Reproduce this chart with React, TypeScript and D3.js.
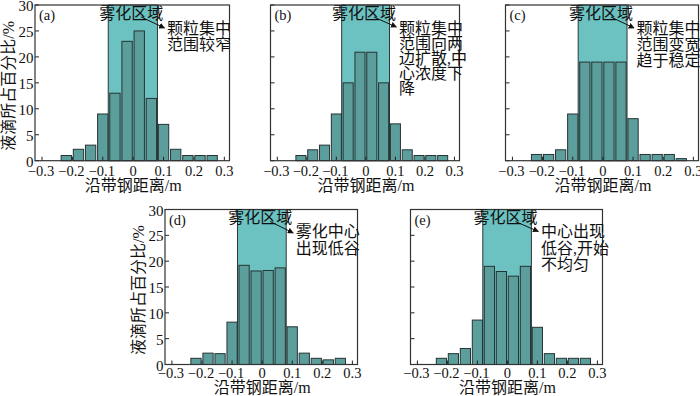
import React, { useEffect, useRef } from "react";
import * as d3 from "d3";

// bar centres along the strip (m)
const positions = [-0.22, -0.18, -0.14, -0.1, -0.06, -0.02, 0.02, 0.06, 0.1, 0.14, 0.18, 0.22, 0.26];

// droplet share (%) for each panel
const valuesA = [1, 2.2, 3, 9, 13, 23, 25, 12, 7, 2.2, 1, 1, 1];
const valuesB = [1, 2.1, 3, 9, 15, 20.9, 20.9, 15, 7.1, 2.1, 1, 1, 1];
const valuesC = [1.2, 1.2, 2.1, 9, 19, 19, 19, 19, 8.1, 1.2, 1.2, 1.2, 0.4];
const valuesD = [1.2, 2.2, 2.1, 8.2, 19.2, 18.1, 18.2, 18.7, 7.3, 2.2, 1.2, 0.9, 1.2];
const valuesE = [1.2, 2.1, 3.1, 8.6, 19, 18, 17.1, 19, 7.2, 2.1, 1.2, 1.2, 1.2];

const xTicks = [-0.3, -0.2, -0.1, 0, 0.1, 0.2, 0.3];
const yTicks = [0, 5, 10, 15, 20, 25, 30];
const zone = [-0.082, 0.08];

const notesA = ["颗粒集中", "范围较窄"];
const notesB = ["颗粒集中", "范围向两", "边扩散,中", "心浓度下", "降"];
const notesC = ["颗粒集中", "范围变宽", "趋于稳定"];
const notesD = ["雾化中心", "出现低谷"];
const notesE = ["中心出现", "低谷,开始", "不均匀"];

const panels = [
  { tag: "(a)", values: valuesA, notes: notesA, left: 35, top: 5, w: 194.5, h: 155.7, yLab: true, noteY: 23, lh: 16.7, arrowY: 23, tickY: 10.5, titleY: 25 },
  { tag: "(b)", values: valuesB, notes: notesB, left: 270.5, top: 5, w: 189, h: 155.7, yLab: false, noteY: 23, lh: 15, arrowY: 22, tickY: 10.5, titleY: 25 },
  { tag: "(c)", values: valuesC, notes: notesC, left: 505.5, top: 5, w: 193, h: 155.7, yLab: false, noteY: 23, lh: 16, arrowY: 23, tickY: 10.5, titleY: 25 },
  { tag: "(d)", values: valuesD, notes: notesD, left: 165, top: 209.5, w: 192.5, h: 155, yLab: true, noteY: 22, lh: 17, arrowY: 23.5, tickY: 8.5, titleY: 22.5 },
  { tag: "(e)", values: valuesE, notes: notesE, left: 410.5, top: 209.5, w: 192, h: 155, yLab: false, noteY: 22, lh: 16.7, arrowY: 22, tickY: 8.5, titleY: 22.5 },
];

const NUM = "'Liberation Serif', 'Times New Roman', 'DejaVu Serif', serif";
const MIX = "'Liberation Serif', 'Times New Roman', 'Noto Sans CJK SC', serif";

export default function App() {
  const svgRef = useRef<SVGSVGElement>(null);

  useEffect(() => {
    const svg = d3.select(svgRef.current);
    svg.selectAll("*").remove();

    svg.append("defs")
      .append("marker")
      .attr("id", "arr")
      .attr("viewBox", "0 0 10 10")
      .attr("refX", 9)
      .attr("refY", 5)
      .attr("markerWidth", 6)
      .attr("markerHeight", 6)
      .attr("markerUnits", "userSpaceOnUse")
      .attr("orient", "auto")
      .append("path")
      .attr("d", "M0,0L10,5L0,10z")
      .attr("fill", "#111");

    panels.forEach((p) => {
      const x = d3.scaleLinear().domain([-0.323, 0.317]).range([p.left, p.left + p.w]);
      const y = d3.scaleLinear().domain([0, 30]).range([p.top + p.h, p.top]);
      const g = svg.append("g");

      // atomization zone
      g.append("rect")
        .attr("x", x(zone[0]))
        .attr("y", p.top)
        .attr("width", x(zone[1]) - x(zone[0]))
        .attr("height", p.h)
        .attr("fill", "#6cc2c1")
        .attr("stroke", "#2e3838")
        .attr("stroke-width", 1);

      g.selectAll("rect.bar")
        .data(p.values)
        .enter()
        .append("rect")
        .attr("class", "bar")
        .attr("x", (d, i) => x(positions[i] - 0.017))
        .attr("y", (d) => y(d))
        .attr("width", (d, i) => x(positions[i] + 0.017) - x(positions[i] - 0.017))
        .attr("height", (d) => y(0) - y(d))
        .attr("fill", "#5b9e9c")
        .attr("stroke", "#263434")
        .attr("stroke-width", 1);

      // ticks inside the frame
      g.selectAll("line.xt")
        .data(xTicks)
        .enter()
        .append("line")
        .attr("x1", (d) => x(d))
        .attr("x2", (d) => x(d))
        .attr("y1", p.top + p.h)
        .attr("y2", p.top + p.h - 4)
        .attr("stroke", "#222");

      g.selectAll("line.yt")
        .data(yTicks)
        .enter()
        .append("line")
        .attr("x1", p.left)
        .attr("x2", p.left + 4)
        .attr("y1", (d) => y(d))
        .attr("y2", (d) => y(d))
        .attr("stroke", "#222");

      g.append("rect")
        .attr("x", p.left)
        .attr("y", p.top)
        .attr("width", p.w)
        .attr("height", p.h)
        .attr("fill", "none")
        .attr("stroke", "#333")
        .attr("stroke-width", 1.2);

      g.selectAll("text.xl")
        .data(xTicks)
        .enter()
        .append("text")
        .attr("x", (d) => x(d) + (d < 0 ? -1 : 0))
        .attr("y", p.top + p.h + p.tickY)
        .attr("text-anchor", "middle")
        .attr("dominant-baseline", "central")
        .style("font-family", NUM)
        .attr("font-size", 14.5)
        .attr("fill", "#111")
        .text((d) => (d === 0 ? "0" : d3.format(".1f")(d).replace("-", "\u2212")));

      if (p.yLab) {
        g.selectAll("text.yl")
          .data(yTicks)
          .enter()
          .append("text")
          .attr("x", p.left - 1.5)
          .attr("y", (d) => y(d) + 1)
          .attr("text-anchor", "end")
          .attr("dominant-baseline", "central")
          .style("font-family", NUM)
          .attr("font-size", 15)
          .attr("fill", "#111")
          .text((d) => d);

        const cy = p.top + p.h / 2 + 3;
        g.append("text")
          .attr("transform", `translate(${p.left - 27},${cy}) rotate(-90)`)
          .attr("text-anchor", "middle")
          .attr("dominant-baseline", "central")
          .style("font-family", MIX)
          .attr("font-size", 16)
          .attr("fill", "#111")
          .text("液滴所占百分比/%");
      }

      g.append("text")
        .attr("x", p.left + p.w / 2 + 1)
        .attr("y", p.top + p.h + p.titleY)
        .attr("text-anchor", "middle")
        .attr("dominant-baseline", "central")
        .style("font-family", MIX)
        .attr("font-size", 16)
        .attr("fill", "#111")
        .text("沿带钢距离/m");

      g.append("text")
        .attr("x", p.left + 4)
        .attr("y", p.top + 10)
        .attr("dominant-baseline", "central")
        .style("font-family", NUM)
        .attr("font-size", 14.5)
        .attr("fill", "#111")
        .text(p.tag);

      g.append("text")
        .attr("x", x(0) - 2)
        .attr("y", p.top + 8)
        .attr("text-anchor", "middle")
        .attr("dominant-baseline", "central")
        .style("font-family", MIX)
        .attr("font-size", 16)
        .attr("fill", "#111")
        .text("雾化区域");

      g.append("line")
        .attr("x1", x(0) + 8)
        .attr("y1", p.top + 12)
        .attr("x2", x(0.1) + 1)
        .attr("y2", p.top + p.arrowY)
        .attr("stroke", "#111")
        .attr("stroke-width", 1)
        .attr("marker-end", "url(#arr)");

      g.selectAll("text.note")
        .data(p.notes)
        .enter()
        .append("text")
        .attr("x", x(0.1) + 3.5)
        .attr("y", (d, i) => p.top + p.noteY + i * p.lh)
        .attr("dominant-baseline", "central")
        .style("font-family", MIX)
        .attr("font-size", 16)
        .attr("fill", "#111")
        .text((d) => d);
    });
  }, []);

  return (
    <svg
      ref={svgRef}
      width={700}
      height={396}
      style={{ position: "absolute", left: 0, top: 0, background: "#fff" }}
    ></svg>
  );
}
